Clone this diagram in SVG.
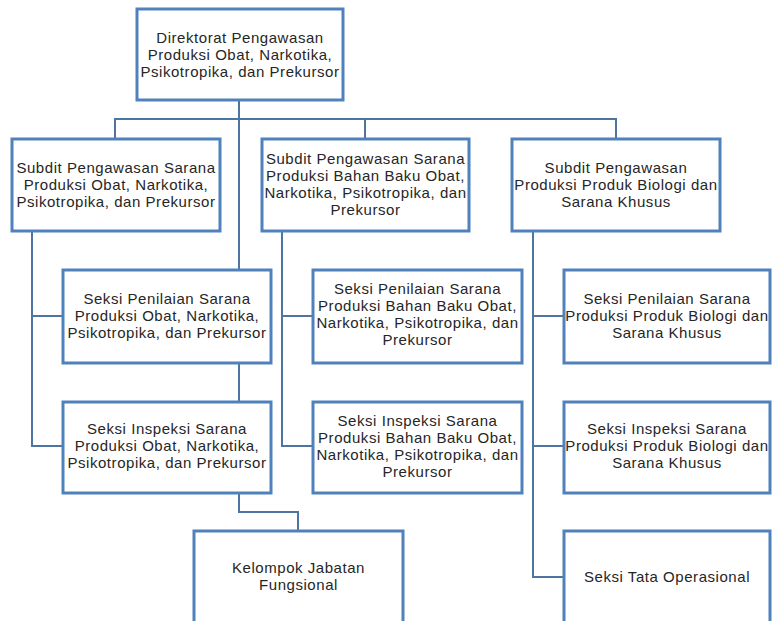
<svg xmlns="http://www.w3.org/2000/svg" width="773" height="621" viewBox="0 0 773 621">
<style>
.box{fill:#fff;stroke:#4F81BD;stroke-width:3}
.con{fill:none;stroke:#4E75A0;stroke-width:2}
text{font-family:"Liberation Sans",Arial,sans-serif;font-size:15px;letter-spacing:0.55px;fill:#262626;text-anchor:middle}
</style>
<rect width="773" height="621" fill="#fff"/>
<g id="connectors">
<path class="con" d="M239,100V270M115,139V119H616V139M365,119V139"/>
<path class="con" d="M32,231V446H63M32,316H63M239,363V402M239,493V512H298V531"/>
<path class="con" d="M282,231V446H313M282,316H313"/>
<path class="con" d="M533,231V577H564M533,316H564M533,446H564"/>
</g>
<g id="direktorat">
<rect class="box" x="137" y="9" width="206" height="91"/>
<text x="240" y="43">Direktorat Pengawasan<tspan x="240" dy="17">Produksi Obat, Narkotika,</tspan><tspan x="240" dy="17">Psikotropika, dan Prekursor</tspan></text>
</g>
<g id="subdit1">
<rect class="box" x="12" y="139" width="208" height="92"/>
<text x="116" y="173">Subdit Pengawasan Sarana<tspan x="116" dy="17">Produksi Obat, Narkotika,</tspan><tspan x="116" dy="17">Psikotropika, dan Prekursor</tspan></text>
</g>
<g id="subdit2">
<rect class="box" x="262" y="139" width="207" height="92"/>
<text x="365.5" y="164">Subdit Pengawasan Sarana<tspan x="365.5" dy="17">Produksi Bahan Baku Obat,</tspan><tspan x="365.5" dy="17">Narkotika, Psikotropika, dan</tspan><tspan x="365.5" dy="17">Prekursor</tspan></text>
</g>
<g id="subdit3">
<rect class="box" x="512" y="139" width="208" height="92"/>
<text x="616" y="173">Subdit Pengawasan<tspan x="616" dy="17">Produksi Produk Biologi dan</tspan><tspan x="616" dy="17">Sarana Khusus</tspan></text>
</g>
<g id="penilaian1">
<rect class="box" x="63" y="270" width="208" height="93"/>
<text x="167" y="304">Seksi Penilaian Sarana<tspan x="167" dy="17">Produksi Obat, Narkotika,</tspan><tspan x="167" dy="17">Psikotropika, dan Prekursor</tspan></text>
</g>
<g id="inspeksi1">
<rect class="box" x="63" y="402" width="208" height="91"/>
<text x="167" y="434">Seksi Inspeksi Sarana<tspan x="167" dy="17">Produksi Obat, Narkotika,</tspan><tspan x="167" dy="17">Psikotropika, dan Prekursor</tspan></text>
</g>
<g id="penilaian2">
<rect class="box" x="313" y="270" width="209" height="93"/>
<text x="417.5" y="294">Seksi Penilaian Sarana<tspan x="417.5" dy="17">Produksi Bahan Baku Obat,</tspan><tspan x="417.5" dy="17">Narkotika, Psikotropika, dan</tspan><tspan x="417.5" dy="17">Prekursor</tspan></text>
</g>
<g id="inspeksi2">
<rect class="box" x="313" y="402" width="209" height="91"/>
<text x="417.5" y="426">Seksi Inspeksi Sarana<tspan x="417.5" dy="17">Produksi Bahan Baku Obat,</tspan><tspan x="417.5" dy="17">Narkotika, Psikotropika, dan</tspan><tspan x="417.5" dy="17">Prekursor</tspan></text>
</g>
<g id="penilaian3">
<rect class="box" x="564" y="270" width="206" height="93"/>
<text x="667" y="304">Seksi Penilaian Sarana<tspan x="667" dy="17">Produksi Produk Biologi dan</tspan><tspan x="667" dy="17">Sarana Khusus</tspan></text>
</g>
<g id="inspeksi3">
<rect class="box" x="564" y="402" width="206" height="91"/>
<text x="667" y="434">Seksi Inspeksi Sarana<tspan x="667" dy="17">Produksi Produk Biologi dan</tspan><tspan x="667" dy="17">Sarana Khusus</tspan></text>
</g>
<g id="kelompok">
<rect class="box" x="194" y="531" width="209" height="93"/>
<text x="298.5" y="573">Kelompok Jabatan<tspan x="298.5" dy="17">Fungsional</tspan></text>
</g>
<g id="tata">
<rect class="box" x="564" y="531" width="206" height="93"/>
<text x="667" y="582">Seksi Tata Operasional</text>
</g>
</svg>
